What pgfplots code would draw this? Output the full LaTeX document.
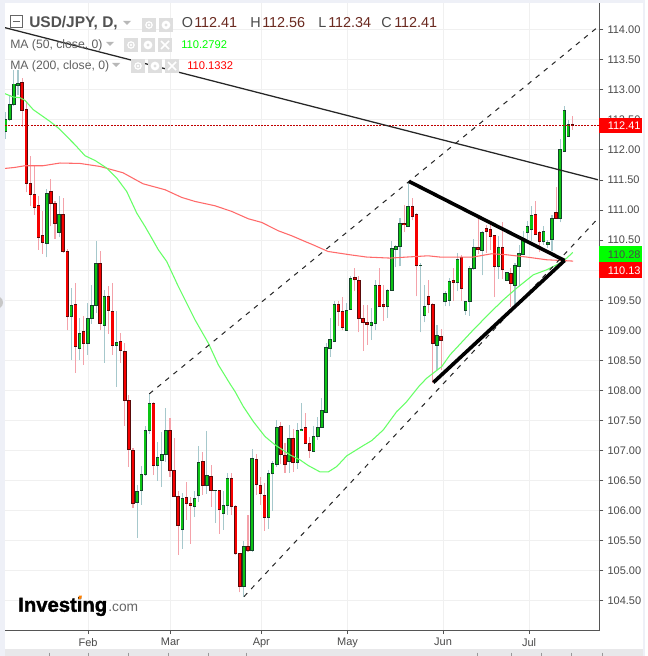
\documentclass[border=0pt]{standalone}
\usepackage{fontspec}
\setmainfont{Liberation Sans}
\newfontfamily\logofont[BoldFeatures={FakeBold=1.6}]{Liberation Sans}
\usepackage{pgfplots}
\usepackage{pgfplotstable}
\pgfplotsset{compat=1.18}

\definecolor{gridc}{HTML}{F0F0F0}
\definecolor{axisc}{HTML}{555555}
\definecolor{labelc}{HTML}{4A4A4A}
\definecolor{stripc}{HTML}{EEF0F7}
\definecolor{barc}{HTML}{E8E8EA}
\definecolor{btnc}{HTML}{DEDEDE}
\definecolor{wickup}{HTML}{A6C8CC}
\definecolor{wickdown}{HTML}{F4A2AA}
\definecolor{bodyup}{HTML}{0CC414}
\definecolor{edgeup}{HTML}{14452A}
\definecolor{bodydown}{HTML}{F60000}
\definecolor{edgedown}{HTML}{5A0A0A}
\definecolor{maf}{HTML}{66FF66}
\definecolor{mas}{HTML}{FF6A6A}
\definecolor{lastc}{HTML}{C00000}
\definecolor{valc}{HTML}{6B2A20}

% x = trading day, o h l c in yen
\pgfplotstableread{
x o h l c
0 112.309 112.625 112.187 112.514
1 112.509 112.891 112.475 112.764
2 112.758 113.335 112.725 113.097
3 113.074 113.335 112.919 113.102
10 110.446 111.355 110.213 111.283
13 110.629 111.239 110.545 110.934
16 109.231 109.702 108.510 109.420
18 108.699 109.209 108.510 108.954
20 108.782 109.458 108.593 109.203
21 109.198 109.758 109.109 109.420
22 109.414 110.484 109.292 110.118
24 109.081 109.675 108.460 109.569
27 108.748 109.325 108.066 108.804
32 106.136 106.424 105.554 106.325
33 106.336 106.746 106.097 106.607
34 106.607 107.406 106.580 107.340
35 107.334 107.955 107.279 107.789
37 106.752 107.145 106.497 106.890
38 106.835 107.317 106.402 106.940
39 106.940 107.706 106.818 107.340
43 105.687 106.291 105.365 106.208
46 106.070 106.330 105.898 106.208
47 106.253 107.079 106.153 106.807
49 106.419 107.328 106.280 106.591
51 106.336 106.345 105.792 106.341
53 105.953 106.330 105.681 106.092
54 106.092 106.630 105.931 106.541
58 104.738 105.498 104.561 105.410
60 105.337 107.029 105.310 106.874
64 105.887 106.680 105.698 106.624
65 106.619 106.829 106.003 106.790
66 106.768 107.511 106.735 107.389
69 106.818 107.428 106.635 107.206
71 106.802 107.456 106.702 107.340
72 107.334 107.794 107.320 107.356
75 106.985 107.412 106.979 107.234
76 107.234 107.567 107.179 107.389
77 107.384 107.883 107.374 107.673
78 107.633 108.788 107.620 108.721
79 108.698 109.203 108.565 108.843
80 108.815 109.491 108.805 109.436
83 108.998 109.453 108.990 109.336
84 109.347 109.907 109.341 109.869
89 109.081 109.369 108.843 109.136
90 109.114 109.841 108.998 109.752
93 109.397 109.685 109.209 109.669
94 109.663 110.479 109.660 110.368
95 110.346 110.423 110.046 110.401
96 110.395 110.872 110.063 110.784
98 110.728 111.477 110.717 111.067
101 110.079 110.124 108.965 110.085
102 109.247 109.752 109.131 109.403
105 108.754 109.092 108.343 108.920
107 109.480 109.647 109.397 109.619
108 109.497 109.869 109.397 109.819
110 109.797 110.285 109.647 110.185
112 109.331 109.492 109.259 109.475
113 109.481 110.063 109.242 110.035
114 110.030 110.518 110.008 110.385
116 110.329 110.645 109.913 110.634
120 110.063 110.573 109.858 110.374
122 109.830 109.975 109.813 109.958
124 109.752 110.118 109.370 110.074
125 110.063 110.424 109.730 110.274
126 110.263 110.645 110.260 110.529
127 110.634 110.812 110.479 110.734
128 110.673 111.072 110.479 110.906
131 110.473 110.740 110.424 110.640
132 110.429 110.507 110.368 110.457
133 110.512 110.923 110.313 110.867
135 110.862 112.182 110.795 112.000
136 111.976 112.725 111.970 112.664
137 112.232 112.492 112.226 112.420
}\upcandles

\pgfplotstableread{
x o h l c
4 113.130 113.196 112.381 112.658
5 112.669 112.808 111.294 111.444
6 111.449 111.904 111.072 111.261
7 111.266 111.727 110.922 111.044
8 111.083 111.228 110.340 110.545
9 110.573 110.989 110.274 110.462
11 111.316 111.521 110.728 111.111
12 111.117 111.144 110.523 110.778
14 110.934 111.205 110.285 110.312
15 110.318 110.351 108.998 109.231
17 109.436 109.791 108.299 108.732
19 108.987 109.237 108.427 108.782
23 110.118 110.324 108.998 109.115
25 109.569 109.741 108.943 109.331
26 109.320 109.791 108.593 108.748
28 108.821 108.954 108.460 108.665
29 108.654 108.787 107.417 107.833
30 107.839 107.927 106.735 107.018
31 107.007 107.040 106.047 106.125
36 107.789 107.810 106.596 106.752
40 107.340 107.550 106.569 106.668
41 106.674 107.206 106.225 106.236
42 106.241 106.330 105.265 105.753
44 106.214 106.480 105.848 106.119
45 106.125 106.236 105.454 106.086
48 106.824 106.979 106.264 106.419
50 106.574 106.763 106.064 106.336
52 106.341 106.345 105.615 106.020
55 106.541 106.630 105.931 106.070
56 106.075 106.097 105.265 105.288
57 105.293 105.300 104.644 104.738
59 105.410 105.931 105.321 105.337
61 106.857 106.946 106.264 106.436
62 106.425 106.558 106.097 106.286
63 106.258 106.458 105.670 105.887
67 107.406 107.478 106.779 106.935
68 106.924 107.123 106.635 106.768
70 107.206 107.356 106.652 106.802
73 107.389 107.628 107.112 107.118
74 107.123 107.234 106.879 107.001
81 109.436 109.491 109.075 109.314
82 109.320 109.558 108.998 109.048
85 109.874 110.040 109.647 109.841
86 109.835 109.907 108.965 109.197
87 109.203 109.425 108.665 109.131
88 109.136 109.425 108.759 109.098
91 109.752 110.040 109.390 109.397
92 109.425 109.752 109.159 109.397
97 110.784 111.089 110.628 110.756
99 111.067 111.200 110.828 110.895
100 110.922 110.950 109.564 110.079
103 109.569 109.841 109.286 109.430
104 109.436 109.450 108.122 108.782
106 108.904 109.026 108.343 108.831
109 109.836 110.035 109.492 109.797
111 110.207 110.257 109.492 109.697
115 110.385 110.867 110.274 110.340
117 110.701 110.756 110.285 110.640
118 110.684 110.784 110.340 110.562
119 110.573 110.590 109.553 110.063
121 110.374 110.795 109.858 110.008
123 109.952 110.035 109.386 109.780
129 110.923 111.156 110.590 110.595
130 110.623 110.656 110.296 110.473
134 110.967 111.377 110.860 110.862
138 112.420 112.560 112.340 112.410
}\downcandles

\pgfplotsset{
  candlebar/.style n args={2}{draw=none, forget plot, mark=none,
    error bars/.cd, y dir=plus, y explicit, error mark=none,
    error bar style={solid, draw=#1, line width=#2}},
}

\newcommand{\btn}[2]{\fill[btnc] (#1,#2) rectangle ++(14,14);}
\newcommand{\eye}[2]{\draw[white, line width=0.9pt] (#1+7,#2+7) circle (3.2);\fill[white] (#1+7,#2+7) circle (1.3);}
\newcommand{\gear}[2]{\fill[white] (#1+7,#2+7) circle (4.4);\fill[btnc] (#1+7,#2+7) circle (1.7);}
\newcommand{\cross}[2]{\draw[white, line width=1.1pt] (#1+3,#2+3) -- ++(8,8) (#1+11,#2+3) -- ++(-8,8);}
\newcommand{\caret}[2]{\fill[black!28] (#1-4,#2-2) -- (#1+4,#2-2) -- (#1,#2+2) -- cycle;}

\begin{document}
\begin{tikzpicture}
\begin{scope}[x=0.75pt, y=-0.75pt]
  \path[use as bounding box] (0,0) rectangle (647,656);
  \fill[white] (0,0) rectangle (647,656);
  \fill[stripc] (0,0) rectangle (645,2.6);
  \fill[stripc] (0,0) rectangle (4.6,656);
  \fill[stripc] (642.8,0) rectangle (645,656);
  \fill[barc] (4.6,649) rectangle (642.8,656);
  \fill[black!22] (0,297) .. controls (4,299) and (4,306) .. (0,308) -- cycle;
  \foreach \t in {49.6,88.4,128,168.6,207.9,246.7,477,511,541,571,602}
    \draw[black!40, line width=0.6pt] (\t,652.7) -- (\t,656);
\end{scope}

\begin{axis}[
    at={(3.75pt,-472.7pt)}, anchor=south west,
    scale only axis,
    width=445.9pt, height=470.7pt,
    xmin=-0.17, xmax=144.58,
    ymin=104.012, ymax=114.45,
    axis x line*=bottom, axis y line*=right,
    axis line style={color=axisc, line width=0.85pt},
    xtick={20.04,40.08,62.24,83.22,106.48,127.42},
    xticklabels={Feb,Mar,Apr,May,Jun,Jul},
    ytick={104.5,105,105.5,106,106.5,107,107.5,108,108.5,109,109.5,110,110.5,111,111.5,112,112.5,113,113.5,114},
    grid=major,
    grid style={color=gridc, line width=0.75pt},
    tick align=outside,
    major tick length=2.8pt,
    tick style={color=axisc, line width=0.75pt},
    /pgf/number format/.cd, fixed, fixed zerofill, precision=2, assume math mode=true,
    /pgfplots/.cd,
    ticklabel style={color=labelc, font=\fontsize{8.25pt}{10pt}\selectfont, inner sep=0pt},
    yticklabel style={anchor=west, xshift=3pt},
    xticklabel style={anchor=north, yshift=-3pt},
]
% wicks
\addplot[candlebar={wickup}{0.8pt}] table[x=x, y=l, y error plus expr=\thisrow{h}-\thisrow{l}] {\upcandles};
\addplot[candlebar={wickdown}{0.8pt}] table[x=x, y=l, y error plus expr=\thisrow{h}-\thisrow{l}] {\downcandles};
% bodies, dark edge then fill
\addplot[candlebar={edgeup}{2.6pt}] table[x=x, y expr=\thisrow{o}-0.008, y error plus expr=\thisrow{c}-\thisrow{o}+0.016] {\upcandles};
\addplot[candlebar={edgedown}{2.6pt}] table[x=x, y expr=\thisrow{c}-0.008, y error plus expr=\thisrow{o}-\thisrow{c}+0.016] {\downcandles};
\addplot[candlebar={bodyup}{1.6pt}] table[x=x, y expr=\thisrow{o}+0.008, y error plus expr={max(\thisrow{c}-\thisrow{o}-0.016,0)}] {\upcandles};
\addplot[candlebar={bodydown}{1.6pt}] table[x=x, y expr=\thisrow{c}+0.008, y error plus expr={max(\thisrow{o}-\thisrow{c}-0.016,0)}] {\downcandles};

% MA 200
\addplot[mas, line width=0.8pt] coordinates {
(-0.17,111.693)(2.26,111.710)(4.70,111.738)(9.08,111.738)(13.22,111.783)(18.09,111.776)
(22.96,111.726)(28.56,111.621)(33.43,111.438)(38.79,111.339)(42.85,111.211)(46.09,111.144)
(50.96,111.072)(55.03,110.978)(59.07,110.856)(62.33,110.795)(66.37,110.656)(69.64,110.573)
(72.88,110.478)(74.82,110.423)(78.48,110.312)(83.83,110.257)(87.90,110.219)(93.57,110.202)
(97.64,110.219)(102.82,110.240)(105.75,110.219)(113.78,110.219)(118.33,110.274)(121.98,110.257)
(126.86,110.219)(131.72,110.174)(138.13,110.152)
};
% MA 50
\addplot[maf, line width=0.8pt] coordinates {
(-0.17,112.936)(1.85,112.881)(3.48,112.869)(4.70,112.824)(6.72,112.670)(10.78,112.475)
(12.81,112.365)(16.87,112.087)(19.31,111.904)(21.74,111.826)(24.59,111.700)(27.03,111.533)
(29.46,111.310)(31.90,110.951)(33.92,110.728)(35.55,110.535)(37.16,110.340)(39.20,110.146)
(42.03,109.730)(44.07,109.453)(46.09,109.176)(49.33,108.788)(51.77,108.427)(54.61,108.111)
(55.83,107.983)(57.85,107.733)(60.29,107.483)(63.14,107.234)(65.57,107.096)(69.22,106.929)
(71.66,106.846)(73.68,106.751)(76.53,106.646)(78.55,106.646)(80.59,106.735)(83.03,106.913)
(87.07,107.084)(89.12,107.167)(91.94,107.345)(95.20,107.650)(97.64,107.816)(100.70,108.077)
(102.51,108.205)(106.16,108.398)(108.18,108.593)(113.85,109.009)(117.92,109.292)(121.16,109.508)
(124.42,109.703)(128.46,109.924)(131.72,110.007)(134.96,110.119)(136.59,110.202)(138.06,110.295)
};
% last close
\addplot[lastc, line width=0.75pt, dash pattern=on 1.5pt off 0.9pt] coordinates {(-0.17,112.41)(144.58,112.41)};
% drawn trend lines
\addplot[black!85, line width=0.95pt] coordinates {(-0.17,114.034)(144.2,111.505)};
\addplot[black!85, line width=0.75pt, dash pattern=on 3.6pt off 4.2pt] coordinates {(34.96,107.944)(143.97,114.034)};
\addplot[black!85, line width=0.75pt, dash pattern=on 3.6pt off 4.2pt] coordinates {(58.02,104.572)(143.9,110.839)};
\addplot[black, line width=2.7pt] coordinates {(98.2,111.477)(136.06,110.162)};
\addplot[black, line width=2.7pt] coordinates {(104.11,108.132)(136.06,110.162)};
\end{axis}

\begin{scope}[x=0.75pt, y=-0.75pt, every node/.style={inner sep=0pt, anchor=base west}]
  % price tags
  \fill[red] (599.4,118) rectangle (642,133);
  \node[white, font=\fontsize{8.25pt}{10pt}\selectfont] at (607.5,129.5) {112.41};
  \fill[green] (599.4,246) rectangle (642,261.7);
  \node[labelc, font=\fontsize{8.25pt}{10pt}\selectfont] at (607.5,258) {110.28};
  \fill[red] (599.4,262.3) rectangle (642,277.7);
  \node[white, font=\fontsize{8.25pt}{10pt}\selectfont] at (607.5,274) {110.13};

  % legend rows
  \draw[black!60, line width=0.6pt] (10.7,15.7) rectangle (22,27);
  \draw[black!60, line width=0.6pt] (13,21.4) -- (19.7,21.4);
  \node[black!68, font=\fontsize{11.6pt}{14pt}\selectfont\bfseries] at (29,28) {USD/JPY, D,};
  \caret{127}{23}
  \btn{142}{18}\eye{142}{18}
  \btn{159}{18}\gear{159}{18}
  \node[labelc, font=\fontsize{10.8pt}{13pt}\selectfont] at (181.5,28) {O};
  \node[valc, font=\fontsize{10.8pt}{13pt}\selectfont] at (194,28) {112.41};
  \node[labelc, font=\fontsize{10.8pt}{13pt}\selectfont] at (250,28) {H};
  \node[valc, font=\fontsize{10.8pt}{13pt}\selectfont] at (262,28) {112.56};
  \node[labelc, font=\fontsize{10.8pt}{13pt}\selectfont] at (318,28) {L};
  \node[valc, font=\fontsize{10.8pt}{13pt}\selectfont] at (328,28) {112.34};
  \node[labelc, font=\fontsize{10.8pt}{13pt}\selectfont] at (381,28) {C};
  \node[valc, font=\fontsize{10.8pt}{13pt}\selectfont] at (394,28) {112.41};

  \node[black!62, font=\fontsize{9.15pt}{11pt}\selectfont] at (10,49) {MA (50, close, 0)};
  \caret{110}{44}
  \btn{124}{38}\eye{124}{38}
  \btn{141}{38}\gear{141}{38}
  \btn{158}{38}\cross{158}{38}
  \node[green, font=\fontsize{8.4pt}{10pt}\selectfont] at (181,49) {110.2792};

  \node[black!62, font=\fontsize{9.15pt}{11pt}\selectfont] at (10,70) {MA (200, close, 0)};
  \caret{116}{65}
  \btn{131}{59}\eye{131}{59}
  \btn{148}{59}\gear{148}{59}
  \btn{165}{59}\cross{165}{59}
  \node[red, font=\fontsize{8.4pt}{10pt}\selectfont] at (187,70) {110.1332};

  % logo
  \node[black, font=\fontsize{15.2pt}{18pt}\logofont\bfseries] at (18,611.7) {Investing};
  \node[black!60, font=\fontsize{10.35pt}{12pt}\selectfont] at (108,611.7) {.com};
  \fill[orange] (79,595.5) -- (82,595.5) -- (81,598.8) -- (78.4,598.8) -- cycle;
\end{scope}
\end{tikzpicture}
\end{document}
